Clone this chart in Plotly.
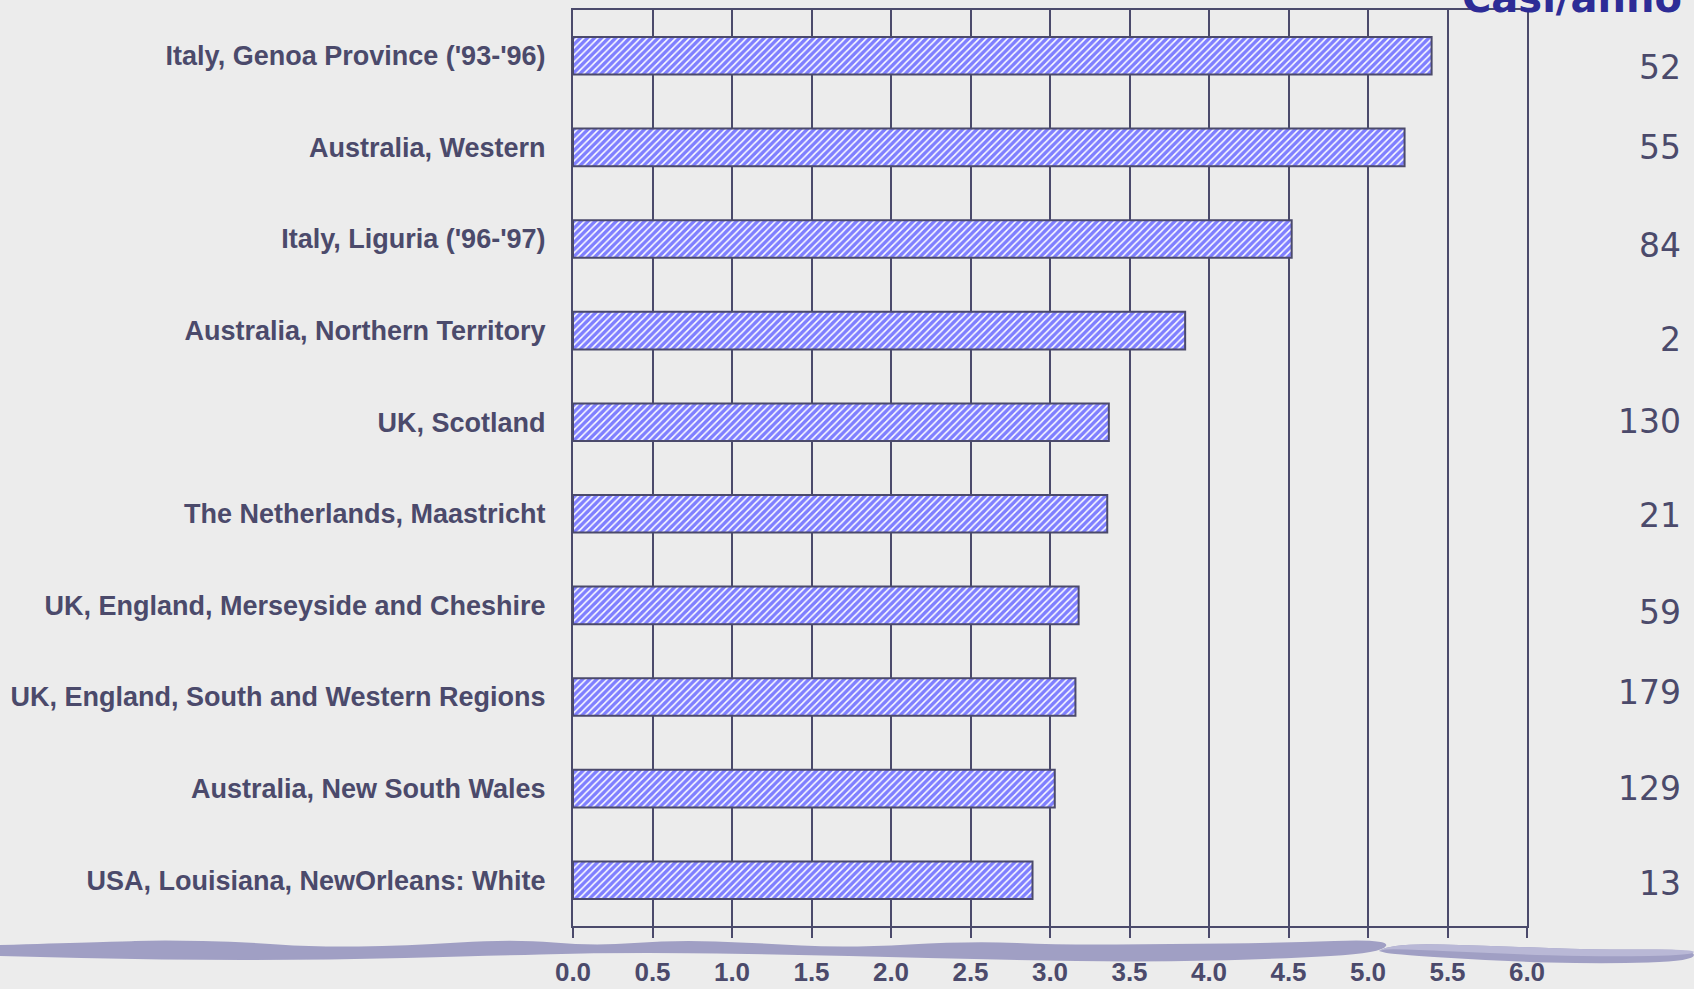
import plotly.graph_objects as go

# ---------------- data ----------------
regions = [
    "Italy, Genoa Province ('93-'96)",
    "Australia, Western",
    "Italy, Liguria ('96-'97)",
    "Australia, Northern Territory",
    "UK, Scotland",
    "The Netherlands, Maastricht",
    "UK, England, Merseyside and Cheshire",
    "UK, England, South and Western Regions",
    "Australia, New South Wales",
    "USA, Louisiana, NewOrleans: White",
]
rates = [5.40, 5.23, 4.52, 3.85, 3.37, 3.36, 3.18, 3.16, 3.03, 2.89]
cases_per_year = ["52", "55", "84", "2", "130", "21", "59", "179", "129", "13"]
x_ticks = [0.0, 0.5, 1.0, 1.5, 2.0, 2.5, 3.0, 3.5, 4.0, 4.5, 5.0, 5.5, 6.0]
cases_header = "Casi/anno"

# ---------------- style ----------------
W, H = 1694, 989
L, R, T, B = 573, 1527, 10, 926          # plot area in pixels
INK = "#4b4a6b"
BG = "#ececec"
NARROW = "Liberation Sans Narrow, Arial Narrow, Liberation Sans, Arial"
case_yshift = [-12, 0, -6, -9, 1, -2, -7, 5, 0, -3]


def px2paper(px, py):
    return (px - L) / (R - L), (B - py) / (B - T)


def smooth_path(top, bottom):
    """closed smooth band path in paper coords from pixel point lists"""
    pts = top + bottom[::-1]
    pp = [px2paper(x, y) for x, y in pts]
    d = "M %.5f,%.5f " % pp[0]
    for i in range(1, len(pp) - 1):
        mx = (pp[i][0] + pp[i + 1][0]) / 2
        my = (pp[i][1] + pp[i + 1][1]) / 2
        d += "Q %.5f,%.5f %.5f,%.5f " % (pp[i][0], pp[i][1], mx, my)
    d += "L %.5f,%.5f Z" % pp[-1]
    return d


fig = go.Figure()
fig.add_trace(go.Bar(
    x=rates, y=regions, orientation="h",
    marker=dict(
        color="white",
        line=dict(color=INK, width=2),
        pattern=dict(shape="/", fgcolor="#0000ff", bgcolor="white",
                     size=5, solidity=0.7, fillmode="overlay"),
    ),
    width=0.41,
    hoverinfo="x+y",
))

annotations = []
for reg, c, ys in zip(regions, cases_per_year, case_yshift):
    annotations.append(dict(
        x=(1683 - L) / (R - L), xref="paper", y=reg, yref="y",
        text=c, showarrow=False, xanchor="right", yanchor="middle",
        yshift=ys, font=dict(family="DejaVu Sans", size=33, color=INK),
    ))
annotations.append(dict(
    x=(1684 - L) / (R - L), xref="paper", y=(B - 23) / (B - T), yref="paper",
    text=cases_header, showarrow=False, xanchor="right", yanchor="bottom",
    font=dict(family="DejaVu Sans", size=40, color="#2d2c96", weight="bold"),
))

# decorative wavy band at the bottom
band1_top = [(0, 945), (108, 942), (162, 940), (243, 942), (313, 947), (405, 946),
             (513, 939), (594, 946), (675, 940), (756, 943), (847, 948), (971, 941),
             (1063, 945), (1171, 944), (1279, 943), (1390, 939)]
band1_bot = [(0, 956), (162, 960), (324, 960), (486, 956), (594, 953), (702, 953),
             (847, 956), (1009, 960), (1144, 962), (1279, 959), (1382, 953)]
band2_top = [(1379, 951), (1390, 943), (1495, 946), (1603, 950), (1694, 949)]
band2_bot = [(1379, 951), (1390, 954), (1495, 961), (1603, 964), (1694, 961)]
shapes = []
for top, bot in ((band1_top, band1_bot), (band2_top, band2_bot)):
    shapes.append(dict(type="path", xref="paper", yref="paper", path=smooth_path(top, bot),
                       fillcolor="#a09fc4", line=dict(width=0), layer="below"))
    if len(top) == len(bot):
        mid = [(x, (yt + yb) / 2) for (x, yt), (_, yb) in zip(top, bot)]
        shapes.append(dict(type="path", xref="paper", yref="paper", path=smooth_path(top, mid),
                           fillcolor="#b9b8d6", line=dict(width=0), layer="below"))

fig.update_layout(
    width=W, height=H,
    margin=dict(l=L, r=W - R, t=T, b=H - B, pad=0, autoexpand=False),
    paper_bgcolor=BG, plot_bgcolor="rgba(0,0,0,0)",
    showlegend=False,
    annotations=annotations,
    shapes=shapes,
    bargap=0.59,
)
fig.update_xaxes(
    range=[0, 6], tickvals=x_ticks, ticktext=["%.1f" % v for v in x_ticks],
    showgrid=True, gridcolor=INK, gridwidth=2,
    showline=True, mirror=True, linecolor=INK, linewidth=2,
    ticks="outside", ticklen=10, tickwidth=2, tickcolor=INK,
    ticklabelstandoff=12, automargin=False,
    tickfont=dict(family=NARROW, size=26, color=INK, weight="bold"),
    zeroline=False, fixedrange=True,
)
fig.update_yaxes(
    autorange="reversed", showgrid=False,
    showline=True, mirror=True, linecolor=INK, linewidth=2,
    ticks="", ticklabelstandoff=20, automargin=False,
    tickfont=dict(family=NARROW, size=27, color=INK, weight="bold"),
    fixedrange=True,
)

fig.write_html("out.html", config={"displayModeBar": False},
               post_script="document.body.style.margin='0';")
